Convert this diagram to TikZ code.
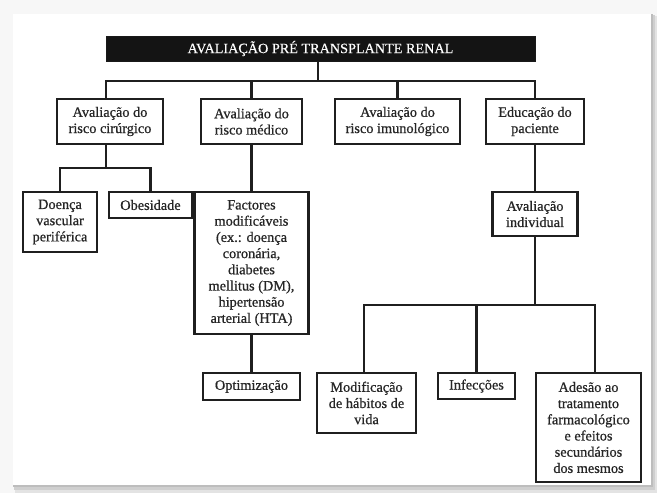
\documentclass[tikz,border=0pt]{standalone}
\usepackage{fontspec}
\setmainfont{Liberation Serif}[FakeBold=0.7]
\newfontfamily\titlefont{Liberation Serif}[FakeBold=0.4]
\begin{document}
\begin{tikzpicture}[x=1pt,y=-1pt,
  box/.style={draw=black!88, line width=2.2pt, fill=white, align=center, inner sep=0pt,
    text=black!85, font=\fontsize{14.3}{16.2}\selectfont},
  titlebox/.style={draw=black!90, line width=1pt, fill=black!92, text=white, inner sep=0pt,
    font=\titlefont\fontsize{14.2}{16}\selectfont},
  link/.style={draw=black!88, line width=2.2pt}]
\useasboundingbox (0,0) rectangle (657,493);
% page and card with shadow
\fill[gray!6] (0,0) rectangle (657,493);
\fill[gray!22] (15,16) rectangle (657,493);
\fill[gray!38] (14,15) rectangle (655,490);
\fill[gray!52] (13,14) rectangle (653,487);
\fill[white] (13,14) rectangle (651,485);

% title
\node[titlebox, minimum width=429, minimum height=25] (title) at (320.5,48.5) {AVALIAÇÃO PRÉ TRANSPLANTE RENAL};

% level 1
\node[box, minimum width=106, minimum height=45] (b1) at (110,121.5) {Avaliação do\\risco cirúrgico};
\node[box, minimum width=101, minimum height=45] (b2) at (251.5,121.5) {Avaliação do\\risco médico};
\node[box, minimum width=125, minimum height=45] (b3) at (397.5,121.5) {Avaliação do\\risco imunológico};
\node[box, minimum width=98, minimum height=45] (b4) at (535,121.5) {Educação do\\paciente};

% level 2
\node[box, minimum width=74, minimum height=60] (d1) at (60,222) {Doença\\vascular\\periférica};
\node[box, minimum width=83, minimum height=26] (d2) at (150.5,205) {Obesidade};
\node[box, minimum width=114, minimum height=142] (fac) at (251.5,263) {Factores\\modificáveis\\(ex.: doença\\coronária,\\diabetes\\mellitus (DM),\\hipertensão\\arterial (HTA)};
\node[box, minimum width=97, minimum height=27] (opt) at (251.5,386.5) {Optimização};
\node[box, minimum width=85, minimum height=44] (ind) at (535,214) {Avaliação\\individual};

% level 4
\node[box, minimum width=99, minimum height=60] (m1) at (366.5,403) {Modificação\\de hábitos de\\vida};
\node[box, minimum width=77, minimum height=26] (m2) at (476.5,386) {Infecções};
\node[box, minimum width=105, minimum height=109] (m3) at (588.5,427.5) {Adesão ao\\tratamento\\farmacológico\\e efeitos\\secundários\\dos mesmos};

% bus coordinates
\coordinate (bus0) at (318,81);
\coordinate (h1L) at (106,81);
\coordinate (h2) at (106,168);
\coordinate (h3L) at (364,305);
\coordinate (h3R) at (595,305);

% connectors
\draw[link] (title.south -| bus0) -- (bus0);
\draw[link] (b1.north -| h1L) -- (h1L) -- (b4.north |- h1L) -- (b4.north);
\draw[link] (b2.north) -- (b2.north |- h1L);
\draw[link] (b3.north) -- (b3.north |- h1L);

\draw[link] (b1.south -| h2) -- (h2);
\draw[link] (d1.north) -- (d1.north |- h2) -- (d2.north |- h2) -- (d2.north);
\draw[link] (b2.south) -- (fac.north);
\draw[link] (fac.south) -- (opt.north);

\draw[link] (b4.south) -- (ind.north);
\draw[link] (ind.south) -- (ind.south |- h3L);
\draw[link] (m1.north -| h3L) -- (h3L) -- (h3R) -- (m3.north -| h3R);
\draw[link] (m2.north) -- (m2.north |- h3L);
\end{tikzpicture}
\end{document}
